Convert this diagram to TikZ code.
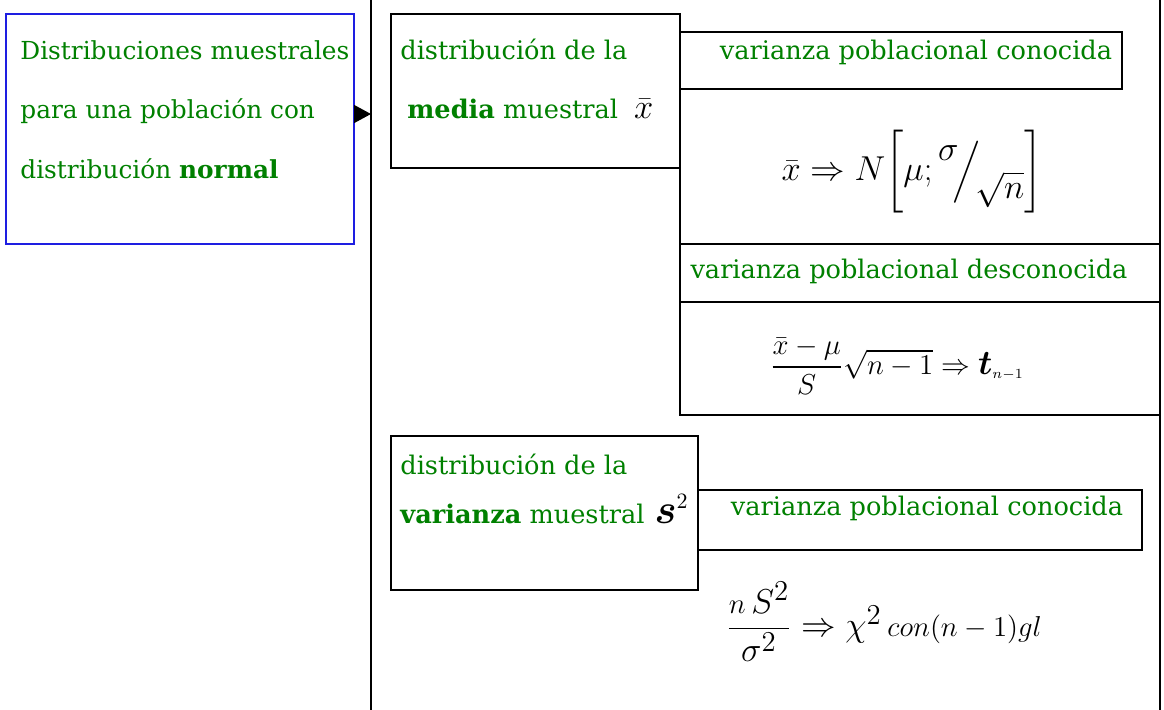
\documentclass[tikz,border=0pt]{standalone}
\usepackage{fontspec}
\usepackage{amsmath,bm}
\setmainfont{DejaVu Serif}
\usetikzlibrary{positioning,fit,arrows.meta}
\definecolor{txtgreen}{RGB}{0,128,0}
\definecolor{boxblue}{RGB}{30,30,225}
\tikzset{
  box/.style={draw=black, line width=0.75pt, inner sep=0pt, outer sep=0pt},
  lbl/.style={font=\fontsize{12.8}{29.75}\selectfont, text=txtgreen, inner sep=0pt, align=left},
  frm/.style={font=\fontsize{16}{20}\selectfont, inner sep=0pt}
}
\begin{document}
\begin{tikzpicture}[x=0.5pt, y=-0.5pt]
    \useasboundingbox (0,0) rectangle (1164,709);
    \clip (0,0) rectangle (1164,709);

    % outer frame and main boxes
    \node[box, fit={(371,-10) (1160,720)}, line width=1pt] (marco) {};
    \node[box, fit={(6,14) (354,244)}, draw=boxblue, line width=0.6pt] (normal) {};
    \node[box, fit={(391,14) (680,168)}] (media) {};
    \node[box, fit={(680,32) (1122,89)}] (conoc1) {};
    \node[box, fit={(680,244) (1160,302)}] (desconoc) {};
    \node[box, fit={(680,302) (1160,415)}] (tform) {};
    \node[box, fit={(391,436) (698,590)}] (varianza) {};
    \node[box, fit={(698,490) (1142,550)}] (conoc2) {};
    \draw[line width=0.75pt] (media.south east) -- (desconoc.north west);

    % arrow into the frame
    \coordinate (arrowtip) at (371,114);
    \draw[-{Triangle[length=8.5pt,width=9pt]}, line width=0.75pt] (arrowtip -| normal.east) -- (arrowtip);

    % texts
    \node[lbl, anchor=north west, font=\fontsize{12.4}{29.75}\selectfont] (titulo) at (20,40)
        {Distribuciones muestrales\\para una población con\\distribución \textbf{normal}};
    \node[lbl, anchor=north west] (txtmedia) at (400,38.5)
        {distribución de la\\\hspace*{3.5pt}\textbf{media} muestral\hspace{8pt}\textcolor{black}{\fontsize{16}{16}\selectfont$\bar{x}$}};
    \node[lbl, anchor=north west, font=\fontsize{12.8}{24.5}\selectfont] (txtvar) at (400,453.5)
        {distribución de la\\\textbf{varianza} muestral\hspace{5pt}\textcolor{black}{\fontsize{22}{22}\selectfont$\bm{s}^{\scriptscriptstyle 2}$}};
    \node[lbl] (lblconoc1) at (916,52) {varianza poblacional conocida};
    \node[lbl] (lbldesc) at (909,271) {varianza poblacional desconocida};
    \node[lbl] (lblconoc2) at (927,508) {varianza poblacional conocida};

    % formulas
    \node[frm] (fnormal) at (912,172)
        {$\bar{x}\Rightarrow N\!\left[\mu;\raisebox{1.2ex}{$\sigma$}\!\Big/\!\raisebox{-1.1ex}{$\sqrt{n}$}\right]$};
    \node[frm, font=\fontsize{15}{18}\selectfont] (fstudent) at (897,366)
        {$\dfrac{\bar{x}-\mu}{S}\sqrt{n-1}\Rightarrow\text{\fontsize{19}{20}\selectfont$\bm{t}$}_{\scriptscriptstyle n-1}$};
    \node[frm, font=\fontsize{19}{22}\selectfont] (fchi) at (884,622)
        {$\dfrac{{\scriptstyle n}\,S^{2}}{\sigma^{2}}\Rightarrow\chi^{2}\,\text{\fontsize{15}{18}\selectfont$con(n-1)gl$}$};
\end{tikzpicture}
\end{document}
